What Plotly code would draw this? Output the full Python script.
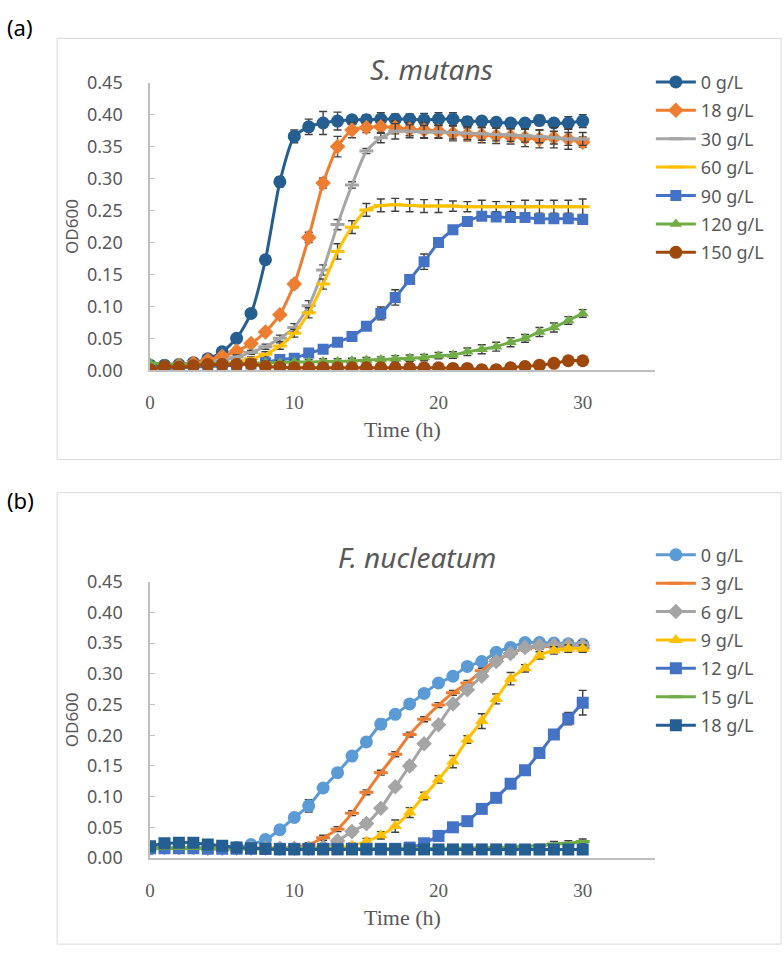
import plotly.graph_objects as go

# ---------------- data ----------------
time_h = list(range(0, 31))

# Panel (a) S. mutans
a_names = ["0 g/L", "18 g/L", "30 g/L", "60 g/L", "90 g/L", "120 g/L", "150 g/L"]
a_0 = [0.008, 0.008, 0.009, 0.012, 0.018, 0.029, 0.050, 0.089, 0.173, 0.295, 0.366, 0.381, 0.387, 0.390, 0.392,
       0.392, 0.393, 0.393, 0.393, 0.392, 0.393, 0.393, 0.389, 0.390, 0.388, 0.387, 0.387, 0.391, 0.387, 0.387, 0.390]
a_18 = [0.003, 0.005, 0.008, 0.011, 0.016, 0.022, 0.030, 0.042, 0.060, 0.087, 0.135, 0.208, 0.293, 0.350, 0.376,
        0.380, 0.381, 0.380, 0.377, 0.376, 0.374, 0.371, 0.369, 0.368, 0.367, 0.366, 0.364, 0.362, 0.364, 0.362, 0.357]
a_30 = [0.004, 0.005, 0.006, 0.008, 0.011, 0.015, 0.021, 0.028, 0.037, 0.050, 0.067, 0.101, 0.157, 0.228, 0.290,
        0.343, 0.364, 0.374, 0.374, 0.373, 0.373, 0.372, 0.371, 0.370, 0.369, 0.368, 0.367, 0.366, 0.364, 0.362, 0.362]
a_60 = [0.004, 0.004, 0.005, 0.006, 0.008, 0.010, 0.013, 0.018, 0.025, 0.038, 0.058, 0.090, 0.135, 0.186, 0.224,
        0.251, 0.258, 0.259, 0.258, 0.257, 0.257, 0.257, 0.256, 0.256, 0.256, 0.256, 0.256, 0.256, 0.256, 0.256, 0.256]
a_90 = [0.005, 0.003, 0.004, 0.005, 0.006, 0.007, 0.008, 0.010, 0.012, 0.017, 0.019, 0.027, 0.033, 0.044, 0.053,
        0.069, 0.089, 0.114, 0.142, 0.170, 0.200, 0.220, 0.233, 0.241, 0.240, 0.239, 0.239, 0.237, 0.237, 0.237, 0.236]
a_120 = [0.012, 0.010, 0.010, 0.010, 0.010, 0.011, 0.011, 0.011, 0.012, 0.012, 0.013, 0.013, 0.014, 0.014, 0.015,
         0.016, 0.017, 0.018, 0.019, 0.020, 0.023, 0.024, 0.029, 0.033, 0.037, 0.044, 0.050, 0.060, 0.067, 0.078, 0.089]
a_150 = [0.001, 0.006, 0.005, 0.007, 0.009, 0.009, 0.009, 0.010, 0.006, 0.005, 0.004, 0.004, 0.004, 0.004, 0.004,
         0.004, 0.004, 0.004, 0.004, 0.004, 0.004, 0.003, 0.003, 0.001, 0.001, 0.004, 0.006, 0.008, 0.011, 0.015, 0.015]

a_0_err = [0.002, 0.001, 0.001, 0.002, 0.002, 0.003, 0.004, 0.004, 0.005, 0.008, 0.010, 0.012, 0.018, 0.014, 0.006,
           0.008, 0.010, 0.008, 0.008, 0.010, 0.010, 0.010, 0.008, 0.006, 0.006, 0.005, 0.006, 0.008, 0.006, 0.010, 0.010]
a_18_err = [0.001, 0.001, 0.001, 0.002, 0.002, 0.002, 0.003, 0.003, 0.004, 0.004, 0.006, 0.008, 0.008, 0.016, 0.012,
            0.008, 0.010, 0.010, 0.010, 0.012, 0.010, 0.012, 0.010, 0.012, 0.012, 0.012, 0.014, 0.014, 0.016, 0.016, 0.008]
a_30_err = [0.001, 0.001, 0.001, 0.001, 0.002, 0.002, 0.003, 0.003, 0.004, 0.005, 0.006, 0.008, 0.008, 0.008, 0.005,
            0.004, 0.008, 0.012, 0.010, 0.010, 0.010, 0.010, 0.010, 0.010, 0.010, 0.010, 0.010, 0.010, 0.010, 0.010, 0.010]
a_60_err = [0.001, 0.001, 0.001, 0.001, 0.001, 0.002, 0.002, 0.003, 0.004, 0.005, 0.006, 0.008, 0.008, 0.012, 0.010,
            0.010, 0.010, 0.010, 0.010, 0.010, 0.010, 0.008, 0.008, 0.010, 0.008, 0.008, 0.010, 0.010, 0.010, 0.010, 0.012]
a_90_err = [0.001, 0.001, 0.001, 0.001, 0.001, 0.001, 0.002, 0.002, 0.002, 0.003, 0.004, 0.006, 0.006, 0.005, 0.004,
            0.005, 0.010, 0.012, 0.006, 0.012, 0.006, 0.006, 0.006, 0.006, 0.006, 0.006, 0.006, 0.006, 0.006, 0.006, 0.006]
a_120_err = [0.002, 0.002, 0.002, 0.002, 0.002, 0.002, 0.003, 0.003, 0.003, 0.003, 0.003, 0.004, 0.004, 0.004, 0.004,
             0.004, 0.004, 0.005, 0.005, 0.005, 0.005, 0.005, 0.006, 0.007, 0.007, 0.007, 0.006, 0.007, 0.007, 0.006, 0.006]
a_150_err = [0.001] * 31

# Panel (b) F. nucleatum
b_names = ["0 g/L", "3 g/L", "6 g/L", "9 g/L", "12 g/L", "15 g/L", "18 g/L"]
b_0 = [0.015, 0.017, 0.017, 0.017, 0.018, 0.018, 0.017, 0.022, 0.030, 0.046, 0.066, 0.085, 0.114, 0.139, 0.166,
       0.189, 0.218, 0.234, 0.251, 0.268, 0.285, 0.296, 0.312, 0.320, 0.335, 0.343, 0.351, 0.351, 0.350, 0.349, 0.348]
b_3 = [0.018, 0.017, 0.017, 0.017, 0.016, 0.016, 0.016, 0.016, 0.016, 0.016, 0.017, 0.022, 0.033, 0.047, 0.073,
       0.107, 0.139, 0.169, 0.201, 0.226, 0.249, 0.269, 0.285, 0.305, 0.322, 0.333, 0.341, 0.344, 0.345, 0.345, 0.342]
b_6 = [0.017, 0.017, 0.017, 0.017, 0.016, 0.016, 0.016, 0.016, 0.016, 0.016, 0.016, 0.016, 0.018, 0.028, 0.043,
       0.056, 0.081, 0.116, 0.150, 0.186, 0.217, 0.251, 0.274, 0.296, 0.320, 0.333, 0.343, 0.346, 0.347, 0.347, 0.346]
b_9 = [0.017, 0.017, 0.017, 0.017, 0.016, 0.016, 0.016, 0.016, 0.016, 0.016, 0.016, 0.016, 0.016, 0.017, 0.020,
       0.027, 0.037, 0.052, 0.074, 0.101, 0.128, 0.157, 0.193, 0.223, 0.259, 0.292, 0.309, 0.330, 0.338, 0.341, 0.341]
b_12 = [0.016, 0.016, 0.016, 0.016, 0.015, 0.015, 0.015, 0.015, 0.015, 0.015, 0.015, 0.015, 0.015, 0.015, 0.015,
        0.015, 0.015, 0.015, 0.017, 0.024, 0.036, 0.050, 0.060, 0.080, 0.098, 0.121, 0.143, 0.171, 0.201, 0.227, 0.253]
b_15 = [0.016, 0.016, 0.016, 0.016, 0.015, 0.015, 0.015, 0.015, 0.015, 0.015, 0.015, 0.015, 0.015, 0.015, 0.015,
        0.015, 0.015, 0.015, 0.015, 0.015, 0.016, 0.016, 0.016, 0.017, 0.017, 0.018, 0.019, 0.020, 0.023, 0.024, 0.027]
b_18 = [0.019, 0.024, 0.025, 0.025, 0.022, 0.020, 0.017, 0.016, 0.015, 0.014, 0.014, 0.014, 0.014, 0.014, 0.014,
        0.014, 0.014, 0.014, 0.014, 0.014, 0.014, 0.014, 0.014, 0.014, 0.014, 0.014, 0.014, 0.014, 0.014, 0.014, 0.014]

b_0_err = [0.002, 0.002, 0.002, 0.002, 0.002, 0.002, 0.002, 0.002, 0.003, 0.004, 0.003, 0.010, 0.003, 0.005, 0.004,
           0.004, 0.008, 0.006, 0.003, 0.003, 0.004, 0.003, 0.003, 0.003, 0.003, 0.003, 0.003, 0.003, 0.003, 0.005, 0.005]
b_3_err = [0.002, 0.002, 0.002, 0.002, 0.002, 0.002, 0.002, 0.002, 0.002, 0.002, 0.002, 0.003, 0.004, 0.004, 0.004,
           0.004, 0.004, 0.004, 0.004, 0.004, 0.004, 0.004, 0.004, 0.004, 0.004, 0.004, 0.004, 0.004, 0.004, 0.004, 0.006]
b_6_err = [0.002, 0.002, 0.002, 0.002, 0.002, 0.002, 0.002, 0.002, 0.002, 0.002, 0.002, 0.002, 0.003, 0.004, 0.006,
           0.006, 0.004, 0.004, 0.006, 0.004, 0.004, 0.004, 0.004, 0.004, 0.006, 0.006, 0.006, 0.006, 0.006, 0.006, 0.008]
b_9_err = [0.002, 0.002, 0.002, 0.002, 0.002, 0.002, 0.002, 0.002, 0.002, 0.002, 0.002, 0.002, 0.002, 0.003, 0.004,
           0.005, 0.006, 0.010, 0.008, 0.006, 0.006, 0.010, 0.006, 0.012, 0.008, 0.010, 0.006, 0.006, 0.006, 0.006, 0.006]
b_12_err = [0.002, 0.002, 0.002, 0.002, 0.002, 0.002, 0.002, 0.002, 0.002, 0.002, 0.002, 0.002, 0.002, 0.002, 0.002,
            0.002, 0.002, 0.002, 0.002, 0.003, 0.004, 0.004, 0.004, 0.004, 0.004, 0.004, 0.004, 0.004, 0.004, 0.010, 0.020]
b_15_err = [0.002] * 28 + [0.004, 0.004, 0.004]
b_18_err = [0.003, 0.003, 0.003, 0.003, 0.003, 0.002, 0.002, 0.002, 0.002, 0.002, 0.002, 0.002, 0.002, 0.002, 0.002,
            0.002, 0.002, 0.002, 0.002, 0.002, 0.002, 0.002, 0.002, 0.002, 0.002, 0.002, 0.002, 0.002, 0.002, 0.002, 0.002]

# ---------------- styling ----------------
W, H = 784, 959
def px_x(p): return p / W
def px_y(p): return 1 - p / H

TXT = "#595959"
AX = "#BFBFBF"
SANS = "Noto Sans, Open Sans, sans-serif"
SERIF = "Liberation Serif, Times New Roman, serif"

a_series = [
    (a_names[0], a_0, a_0_err, "#255E91", "circle", 13),
    (a_names[1], a_18, a_18_err, "#ED7D31", "diamond", 12),
    (a_names[2], a_30, a_30_err, "#A5A5A5", "line-ew", 10),
    (a_names[3], a_60, a_60_err, "#FFC000", "line-ew", 10),
    (a_names[4], a_90, a_90_err, "#4472C4", "square", 11),
    (a_names[5], a_120, a_120_err, "#70AD47", "triangle-up", 11),
    (a_names[6], a_150, a_150_err, "#9E480E", "circle", 13),
]
b_series = [
    (b_names[0], b_0, b_0_err, "#5B9BD5", "circle", 13),
    (b_names[1], b_3, b_3_err, "#ED7D31", "line-ew", 10),
    (b_names[2], b_6, b_6_err, "#A5A5A5", "diamond", 12),
    (b_names[3], b_9, b_9_err, "#FFC000", "triangle-up", 12),
    (b_names[4], b_12, b_12_err, "#4472C4", "square", 12),
    (b_names[5], b_15, b_15_err, "#70AD47", "line-ew", 10),
    (b_names[6], b_18, b_18_err, "#255E91", "square", 12),
]

fig = go.Figure()

def add_series(series, xa, ya, legend, grp):
    for i, (name, ys, err, color, sym, size) in enumerate(series):
        mk = dict(symbol=sym, size=size, color=color)
        if sym == "line-ew":
            mk["line"] = dict(color=color, width=3)
        fig.add_trace(go.Scatter(
            x=time_h, y=ys, name=name, mode="lines+markers",
            line=dict(color=color, width=3, shape="spline", smoothing=0.6),
            marker=mk,
            error_y=dict(type="data", array=err, visible=True, color="#404040", thickness=1.4, width=4),
            xaxis=xa, yaxis=ya, legend=legend, legendgroup=f"{grp}{i}",
        ))

add_series(a_series, "x", "y", "legend", "a")
add_series(b_series, "x2", "y2", "legend2", "b")

xdom = [px_x(146), px_x(654)]
ydom_a = [px_y(366.5), px_y(71.5)]
ydom_b = [px_y(866.7), px_y(583.3)]

xaxis_common = dict(
    range=[0, 35], tickvals=[0, 10, 20, 30], showgrid=False, zeroline=False,
    showline=True, linecolor=AX, linewidth=1.5, ticks="",
    tickfont=dict(family=SERIF, size=19, color=TXT), ticklabelstandoff=14,
    title=dict(text="Time (h)", font=dict(family=SERIF, size=22, color=TXT), standoff=10),
    fixedrange=True,
)
yaxis_common = dict(
    range=[0, 0.45], tickvals=[0, 0.05, 0.1, 0.15, 0.2, 0.25, 0.3, 0.35, 0.4, 0.45],
    tickformat=".2f", showgrid=False, zeroline=False,
    showline=True, linecolor=AX, linewidth=1.5, ticks="inside", ticklen=5, tickcolor=AX,
    tickfont=dict(family=SANS, size=18, color=TXT), ticklabelstandoff=22,
    title=dict(text="OD600", font=dict(family=SANS, size=17, color=TXT), standoff=4),
    fixedrange=True,
)

legend_common = dict(
    xanchor="left", yanchor="top", bgcolor="rgba(0,0,0,0)",
    font=dict(family=SANS, size=18, color=TXT), tracegroupgap=2, traceorder="grouped",
    itemwidth=40,
)

fig.update_layout(
    width=W, height=H, margin=dict(l=0, r=0, t=0, b=0),
    paper_bgcolor="white", plot_bgcolor="white", showlegend=True,
    xaxis=dict(domain=xdom, anchor="y", **xaxis_common),
    yaxis=dict(domain=ydom_a, anchor="x", **yaxis_common),
    xaxis2=dict(domain=xdom, anchor="y2", **xaxis_common),
    yaxis2=dict(domain=ydom_b, anchor="x2", **yaxis_common),
    legend=dict(x=px_x(650), y=px_y(52), **legend_common),
    legend2=dict(x=px_x(650), y=px_y(537), **legend_common),
    shapes=[
        dict(type="rect", xref="paper", yref="paper", x0=px_x(52.5), x1=px_x(781), y0=px_y(458), y1=px_y(26),
             line=dict(color="#D9D9D9", width=1), fillcolor="rgba(0,0,0,0)", layer="below"),
        dict(type="rect", xref="paper", yref="paper", x0=px_x(52.5), x1=px_x(781), y0=px_y(955), y1=px_y(492),
             line=dict(color="#D9D9D9", width=1), fillcolor="rgba(0,0,0,0)", layer="below"),
    ],
    annotations=[
        dict(text="(a)", x=px_x(0), y=px_y(14), xref="paper", yref="paper", xanchor="left", yanchor="middle",
             showarrow=False, font=dict(family=SANS, size=22, color="#000000")),
        dict(text="(b)", x=px_x(0), y=px_y(500), xref="paper", yref="paper", xanchor="left", yanchor="middle",
             showarrow=False, font=dict(family=SANS, size=22, color="#000000")),
        dict(text="<i>S. mutans</i>", x=px_x(429), y=px_y(57), xref="paper", yref="paper",
             xanchor="center", yanchor="middle", showarrow=False, font=dict(family=SANS, size=28, color=TXT)),
        dict(text="<i>F. nucleatum</i>", x=px_x(415), y=px_y(558), xref="paper", yref="paper",
             xanchor="center", yanchor="middle", showarrow=False, font=dict(family=SANS, size=28, color=TXT)),
    ],
)

# remove default page margin so the 784x959 figure fits the window exactly
fig.write_html("out.html", config={"displayModeBar": False},
               post_script="document.body.style.margin='0';document.body.style.overflow='hidden';")
